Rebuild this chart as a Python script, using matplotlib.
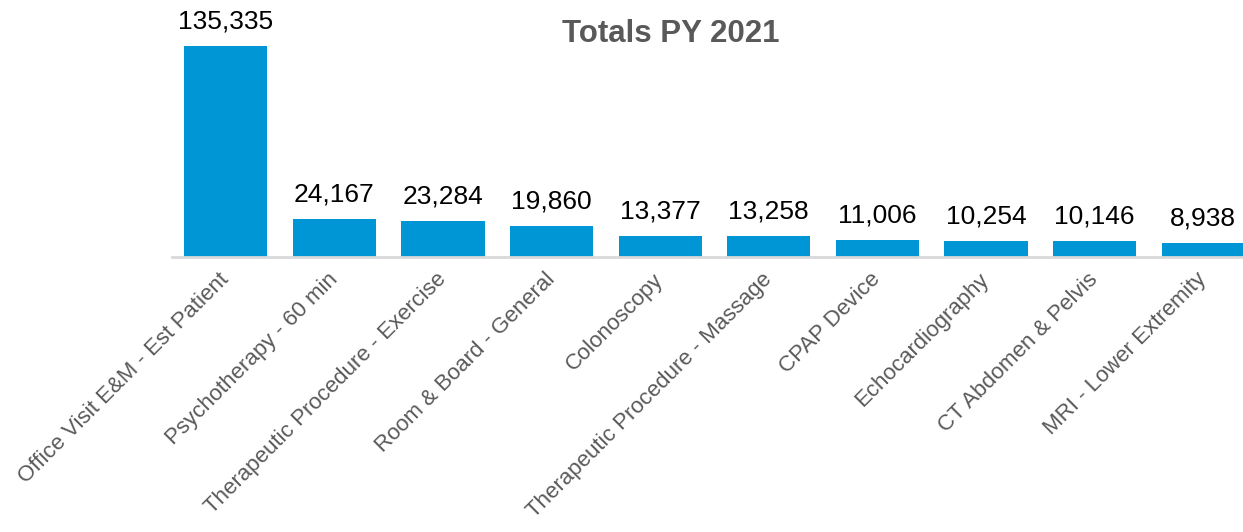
import matplotlib
matplotlib.use("Agg")
import matplotlib.pyplot as plt

categories = [
    "Office Visit E&M - Est Patient",
    "Psychotherapy - 60 min",
    "Therapeutic Procedure - Exercise",
    "Room & Board - General",
    "Colonoscopy",
    "Therapeutic Procedure - Massage",
    "CPAP Device",
    "Echocardiography",
    "CT Abdomen & Pelvis",
    "MRI - Lower Extremity",
]
values = [135335, 24167, 23284, 19860, 13377, 13258, 11006, 10254, 10146, 8938]
title = "Totals PY 2021"

plt.rcParams["font.family"] = ["Liberation Sans", "DejaVu Sans"]

W, H = 1243, 532
fig = plt.figure(figsize=(W / 100, H / 100), dpi=100)
left_px, right_px = 171.5, 1257.5
top_px, base_px = 46, 257
ax = fig.add_axes([left_px / W, (H - base_px) / H,
                   (right_px - left_px) / W, (base_px - top_px) / H])

x = list(range(len(categories)))
bars = ax.bar(x, values, width=0.765, color="#0096D6", zorder=2)
ax.set_xlim(-0.5, len(categories) - 0.5)
ax.set_ylim(0, max(values))

for xi, v in zip(x, values):
    ax.annotate(f"{v:,}", (xi, v), xytext=(0, 9), textcoords="offset points",
                ha="center", va="bottom", fontsize=19, color="#000000",
                clip_on=False, annotation_clip=False)

for s in ["top", "right", "left"]:
    ax.spines[s].set_visible(False)
ax.spines["bottom"].set_color("#D9D9D9")
ax.spines["bottom"].set_linewidth(2)
ax.set_yticks([])
ax.set_xticks(x)
ax.set_xticklabels(categories, rotation=45, ha="right", va="center",
                   rotation_mode="anchor", fontsize=16, color="#595959")
ax.tick_params(axis="x", length=0, pad=14)

fig.text(671 / W, 1 - 34 / H, title, ha="center", va="center",
         fontsize=22.5, fontweight="bold", color="#595959")

fig.savefig("out.png", dpi=100)
